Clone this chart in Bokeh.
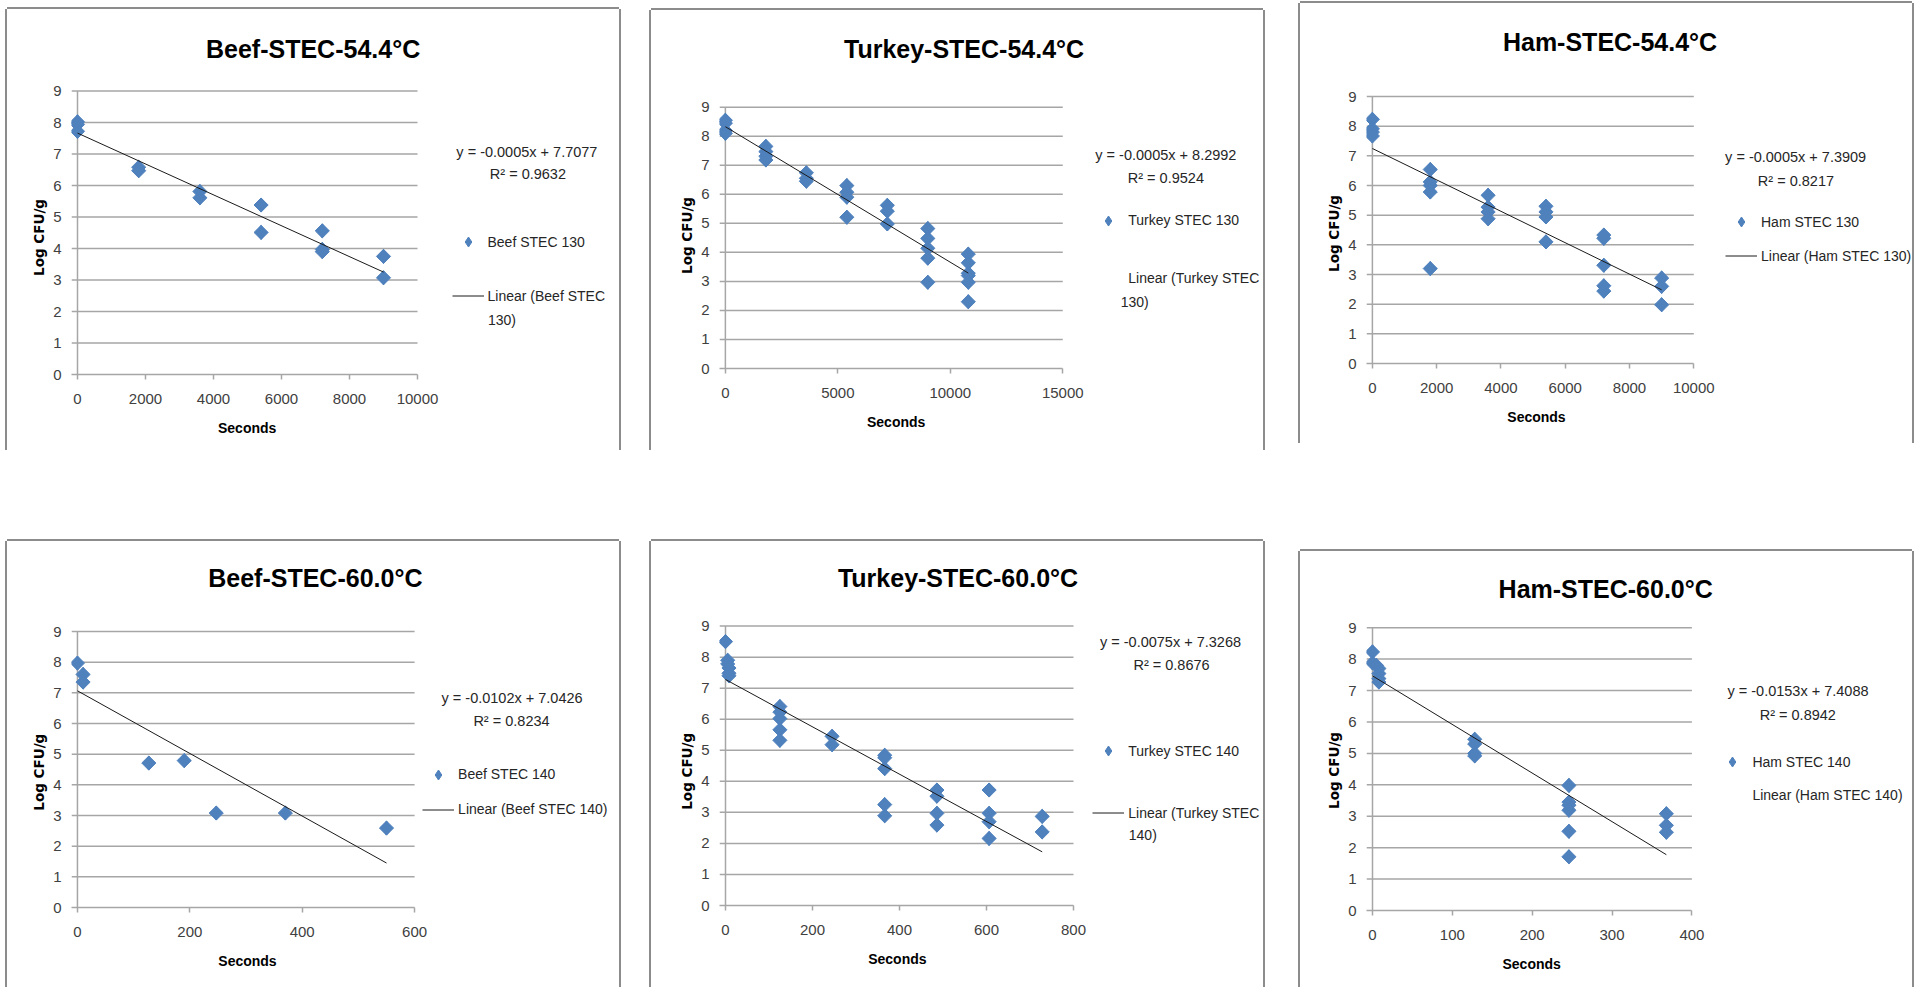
import numpy as np
from bokeh.plotting import figure
from bokeh.models import Range1d, Label, Legend, LegendItem, FixedTicker, Spacer, Title
from bokeh.layouts import row, column
from bokeh.embed import file_html
from bokeh.resources import INLINE

# ---------------- data ----------------
beef130_x = [0, 0, 0, 1800, 1800, 3600, 3600, 5400, 5400, 7200, 7200, 7200, 9000, 9000]
beef130_y = [8.02, 7.94, 7.72, 6.58, 6.47, 5.81, 5.61, 5.38, 4.51, 4.56, 3.97, 3.90, 3.75, 3.07]

turkey130_x = [0, 0, 0, 0, 1800, 1800, 1800, 1800, 3600, 3600, 3600,
               5400, 5400, 5400, 5400, 7200, 7200, 7200,
               9000, 9000, 9000, 9000, 9000, 10800, 10800, 10800, 10800, 10800, 10800]
turkey130_y = [8.55, 8.45, 8.20, 8.10, 7.65, 7.47, 7.31, 7.18, 6.74, 6.55, 6.45,
               6.30, 6.07, 5.90, 5.21, 5.62, 5.42, 4.98,
               4.82, 4.48, 4.14, 3.80, 2.97, 3.94, 3.64, 3.28, 3.20, 2.97, 2.30]

ham130_x = [0, 0, 0, 0, 1800, 1800, 1800, 1800, 1800, 3600, 3600, 3600, 3600,
            5400, 5400, 5400, 5400, 7200, 7200, 7200, 7200, 7200, 9000, 9000, 9000]
ham130_y = [8.23, 7.91, 7.80, 7.67, 6.54, 6.12, 6.00, 5.78, 3.20, 5.67, 5.27, 5.11, 4.88,
            5.30, 5.11, 4.94, 4.10, 4.33, 4.22, 3.31, 2.62, 2.44, 2.88, 2.60, 1.98]

beef140_x = [0, 10, 10, 127, 190, 247, 370, 550]
beef140_y = [7.97, 7.60, 7.35, 4.71, 4.79, 3.08, 3.08, 2.59]

turkey140_x = [0, 5, 5, 8, 8, 8, 125, 125, 125, 125, 125, 245, 245,
               366, 366, 366, 366, 366, 486, 486, 486, 486, 606, 606, 606, 606, 728, 728]
turkey140_y = [8.50, 7.90, 7.78, 7.65, 7.48, 7.40, 6.41, 6.23, 6.02, 5.66, 5.32, 5.45, 5.18,
               4.84, 4.76, 4.41, 3.25, 2.89, 3.72, 3.52, 2.97, 2.59, 3.72, 2.97, 2.70, 2.16, 2.87, 2.37]

ham140_x = [0, 0, 5, 8, 8, 8, 8, 128, 128, 128, 128, 246, 246, 246, 246, 246, 246, 368, 368, 368]
ham140_y = [8.23, 7.88, 7.80, 7.70, 7.54, 7.38, 7.27, 5.45, 5.30, 5.00, 4.92,
            3.98, 3.45, 3.35, 3.19, 2.52, 1.71, 3.08, 2.71, 2.49]

titles = ["Beef-STEC-54.4°C", "Turkey-STEC-54.4°C", "Ham-STEC-54.4°C",
          "Beef-STEC-60.0°C", "Turkey-STEC-60.0°C", "Ham-STEC-60.0°C"]
series_names = ["Beef STEC 130", "Turkey STEC 130", "Ham STEC 130",
                "Beef STEC 140", "Turkey STEC 140", "Ham STEC 140"]
equations = ["y = -0.0005x + 7.7077", "y = -0.0005x + 8.2992", "y = -0.0005x + 7.3909",
             "y = -0.0102x + 7.0426", "y = -0.0075x + 7.3268", "y = -0.0153x + 7.4088"]
r_squared = ["R² = 0.9632", "R² = 0.9524", "R² = 0.8217",
             "R² = 0.8234", "R² = 0.8676", "R² = 0.8942"]
x_label = "Seconds"
y_label = "Log CFU/g"
x_max = [10000, 15000, 10000, 600, 800, 400]
x_step = [2000, 5000, 2000, 200, 200, 100]
y_ticks = list(range(0, 10))

# ---------------- layout (page pixel positions) ----------------
EXT = 6
BLUE = "#4F81BD"
GRID = "#a6a6a6"
LAY = [
    dict(fx=7, fy=9, fw=612, fh=441, px0=76.5, px1=417, py9=90.5, py0=374.5,
         tpos=(312.6, 48.3), eqpos=(526.4, 151.7), r2pos=(527.4, 173.3),
         dcx=467.5, c1=241.7, c2=296, wrap=True, l2y=319, sample=True,
         xlab=246.7, ylab=237),
    dict(fx=651, fy=10, fw=612, fh=440, px0=714.3, px1=1058.2, py9=106.7, py0=367.7,
         tpos=(957.5, 48.3), eqpos=(1163.4, 154), r2pos=(1163.4, 177.7),
         dcx=1097.3, c1=220, c2=278, wrap=True, l2y=301, sample=False,
         xlab=884.7, ylab=235),
    dict(fx=1300, fy=3, fw=612, fh=440, px0=1362.4, px1=1689.3, py9=96, py0=363.3,
         tpos=(1604, 41.7), eqpos=(1793, 156.7), r2pos=(1793.3, 180.7),
         dcx=1731, c1=221.7, c2=256, wrap=False, l2y=0, sample=True,
         xlab=1526, ylab=233),
    dict(fx=7, fy=541, fw=612, fh=446, px0=73.2, px1=412.6, py9=631, py0=906.7,
         tpos=(312.6, 577.3), eqpos=(510.8, 697.7), r2pos=(510.2, 720.7),
         dcx=434.1, c1=774, c2=809, wrap=False, l2y=0, sample=True,
         xlab=243, ylab=771.7),
    dict(fx=651, fy=541, fw=612, fh=446, px0=724.5, px1=1073, py9=625.6, py0=905.5,
         tpos=(957.5, 577.3), eqpos=(1170, 641.7), r2pos=(1171, 664),
         dcx=1108.3, c1=750.7, c2=812.3, wrap=True, l2y=834.3, sample=True,
         xlab=896.9, ylab=770.8),
    dict(fx=1300, fy=551, fw=612, fh=436, px0=1371.6, px1=1691.4, py9=627.2, py0=910.3,
         tpos=(1605.2, 588.3), eqpos=(1797.5, 690.7), r2pos=(1797.3, 714),
         dcx=1732.4, c1=761.7, c2=795, wrap=False, l2y=0, sample=False,
         xlab=1531.2, ylab=770),
]

xs_all = [beef130_x, turkey130_x, ham130_x, beef140_x, turkey140_x, ham140_x]
ys_all = [beef130_y, turkey130_y, ham130_y, beef140_y, turkey140_y, ham140_y]

SHADOW = "-2px 0 0 0 #8c8c8c, 2px 0 0 0 #8c8c8c, 0 -2px 0 0 #8c8c8c"
TXT = "#262626"
XLAB_W = 58.4     # approx. width of "Seconds" (Liberation Sans bold 14px)
YLAB_W = 76.9     # approx. width of "Log CFU/g" (DejaVu Sans bold 13.5px)


def make_panel(i):
    c = LAY[i]
    xs, ys = xs_all[i], ys_all[i]
    xm = x_max[i]
    ytop = y_ticks[-1]
    mbl = int(round(c["px0"] - EXT - c["fx"]))
    mbb = int(round(c["fy"] + c["fh"] - c["py0"]))
    fl = c["fx"] + mbl                 # frame left (page px)
    fr = c["fx"] + c["fw"]             # frame right = figure right
    ft = c["fy"]                       # frame top = figure top
    fb = c["fy"] + c["fh"] - mbb       # frame bottom = y 0
    sx = (c["px1"] - (fl + EXT)) / xm  # px per x unit
    sy = (fb - c["py9"]) / ytop        # px per y unit
    x0s = -EXT / sx
    x_end = xm + (fr - c["px1"]) / sx
    y_end = (fb - ft) / sy

    def dx(px):
        return x0s + (px - fl) / sx

    def dy(py):
        return (fb - py) / sy

    p = figure(width=c["fw"], height=c["fh"], title=None,
               x_range=Range1d(x0s, x_end), y_range=Range1d(0, y_end),
               output_backend="svg", toolbar_location=None,
               min_border_left=mbl, min_border_right=0,
               min_border_top=0, min_border_bottom=mbb,
               background_fill_color="white", border_fill_color="white",
               outline_line_color=None, styles={"box-shadow": SHADOW})

    # axes
    p.xaxis.ticker = FixedTicker(ticks=list(range(0, xm + 1, x_step[i])))
    p.yaxis.ticker = FixedTicker(ticks=y_ticks)
    for ax in (p.xaxis[0], p.yaxis[0]):
        ax.minor_tick_line_color = None
        ax.major_label_text_font = "Liberation Sans"
        ax.major_label_text_font_size = "15px"
        ax.major_label_text_color = "#404040"
    xa = p.xaxis[0]
    xa.bounds = (x0s, xm)
    xa.axis_line_color = GRID
    xa.axis_line_width = 1.5
    xa.major_tick_line_color = GRID
    xa.major_tick_line_width = 1.5
    xa.major_tick_out = 5
    xa.major_tick_in = 0
    xa.major_label_standoff = 14
    ya = p.yaxis[0]
    ya.bounds = (0, ytop)
    ya.axis_line_color = None
    ya.major_tick_line_color = None
    ya.major_tick_out = 0
    ya.major_tick_in = 0
    ya.major_label_standoff = 10

    # axis titles (placed in the axis panels, positioned along the plot area)
    p.add_layout(Title(text=x_label, align="left", vertical_align="top",
                       offset=c["xlab"] - XLAB_W / 2 - fl, standoff=26,
                       text_font="Liberation Sans", text_font_size="14px",
                       text_font_style="bold", text_color="#000000"), "below")
    p.add_layout(Title(text=y_label, align="left",
                       offset=fb - (c["ylab"] + YLAB_W / 2), standoff=7,
                       text_font="DejaVu Sans", text_font_size="13.5px",
                       text_font_style="bold", text_color="#000000"), "left")

    p.xgrid.grid_line_color = None
    p.ygrid.grid_line_color = None

    # horizontal gridlines (limited to the plot area) and the vertical axis line at x = 0
    gy = y_ticks[1:]
    p.segment(x0=[x0s] * len(gy), y0=gy, x1=[xm] * len(gy), y1=gy,
              line_color=GRID, line_width=1.5)
    p.segment(x0=[0], y0=[y_ticks[0]], x1=[0], y1=[ytop],
              line_color=GRID, line_width=1.5)

    # data: diamond markers (a diamond plus a square turned by 45 degrees for the full shape)
    sc = p.scatter(xs, ys, marker="diamond", size=14, fill_color=BLUE,
                   line_color=BLUE, line_width=1)
    p.scatter(xs, ys, marker="square", angle=np.pi / 4, size=10,
              fill_color=BLUE, line_color=BLUE, line_width=1)
    k, b = np.polyfit(np.array(xs, float), np.array(ys, float), 1)
    xe = max(xs)
    ln = p.line([0, xe], [b, b + k * xe], line_color="#1a1a1a", line_width=1)
    lr = ln if c["sample"] else p.line([], [], line_alpha=0)

    # legend
    name = series_names[i]
    if c["wrap"]:
        words = name.rsplit(" ", 1)
        lin1 = "Linear (" + words[0]
        lin2 = words[1] + ")"
    else:
        lin1 = "Linear (" + name + ")"
        lin2 = None
    sp = int(round(c["c2"] - c["c1"] - 25))
    top = c["c1"] - 12.5
    H = 50 + sp
    leg = Legend(items=[LegendItem(label=name, renderers=[sc]),
                        LegendItem(label=lin1, renderers=[lr])],
                 location=((c["dcx"] - 16) - fl, fb - (top + H)),
                 orientation="vertical", padding=0, margin=0, spacing=sp,
                 glyph_width=32, glyph_height=25, label_height=25, label_standoff=4,
                 label_text_font="Liberation Sans", label_text_font_size="14px",
                 label_text_color=TXT, border_line_color=None,
                 background_fill_alpha=0)
    p.add_layout(leg)
    if lin2:
        p.add_layout(Label(x=dx(c["dcx"] + 20), y=dy(c["l2y"]), text=lin2,
                           text_align="left", text_baseline="middle",
                           text_font="Liberation Sans", text_font_size="14px",
                           text_color=TXT))

    # equation and R²
    for txt, (qx, qy) in ((equations[i], c["eqpos"]), (r_squared[i], c["r2pos"])):
        p.add_layout(Label(x=dx(qx), y=dy(qy), text=txt, text_align="center",
                           text_baseline="middle", text_font="Liberation Sans",
                           text_font_size="14.5px", text_color=TXT))

    # chart title
    p.add_layout(Label(x=dx(c["tpos"][0]), y=dy(c["tpos"][1]), text=titles[i],
                       text_align="center", text_baseline="middle",
                       text_font="Liberation Sans", text_font_style="bold",
                       text_font_size="25px", text_color="#000000"))
    return p


figs = [make_panel(i) for i in range(6)]

col1 = column(Spacer(width=612, height=9), figs[0], Spacer(width=612, height=91), figs[3])
col2 = column(Spacer(width=612, height=10), figs[1], Spacer(width=612, height=91), figs[4])
col3 = column(Spacer(width=612, height=3), figs[2], Spacer(width=612, height=108), figs[5])
layout = row(Spacer(width=7, height=10), col1, Spacer(width=32, height=10), col2,
             Spacer(width=37, height=10), col3)

open("out.html", "w").write(file_html(layout, INLINE, title="STEC survival"))
